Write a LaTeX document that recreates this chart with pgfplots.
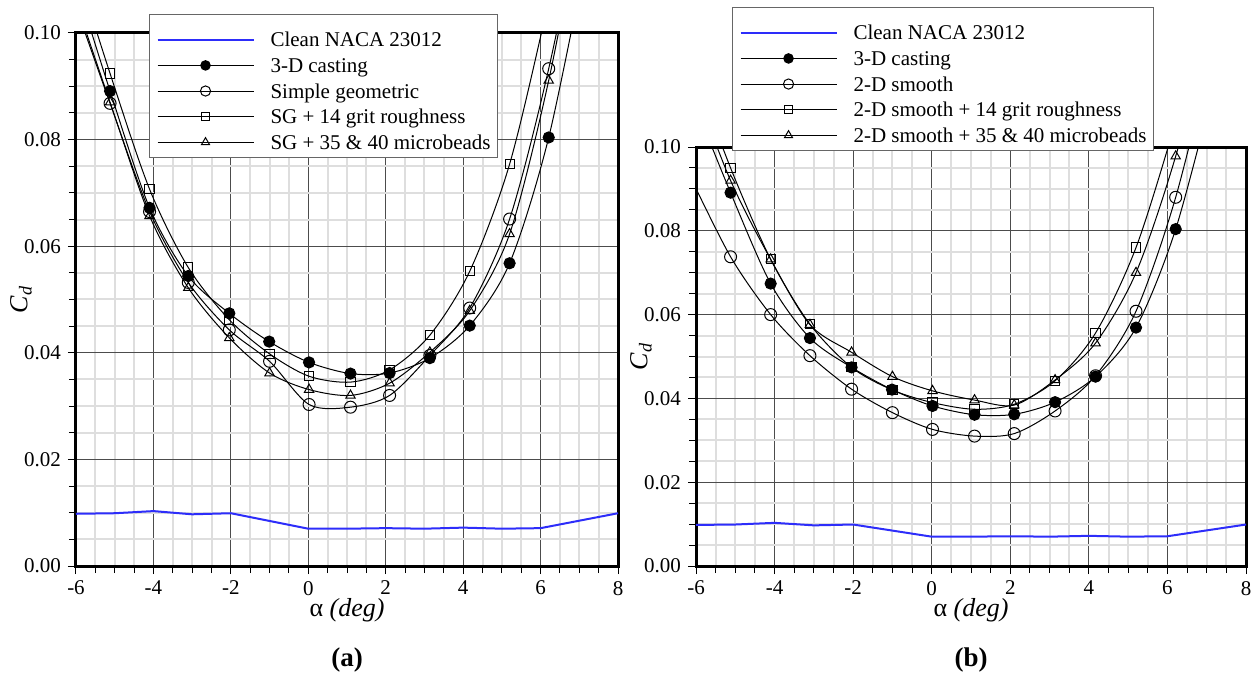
\documentclass[border=0pt]{standalone}
\usepackage{fontspec}
\setmainfont{Liberation Serif}
\usepackage{pgfplots}
\pgfplotsset{compat=1.18}
\definecolor{cleanblue}{RGB}{45,45,250}

\pgfplotsset{
  cdaxis/.style={
    scale only axis,
    anchor=south west,
    xmin=-6, xmax=8, ymin=0, ymax=0.1,
    xtick={-6,-4,-2,0,2,4,6,8},
    ytick={0,0.02,0.04,0.06,0.08,0.1},
    minor x tick num=3,
    minor y tick num=3,
    grid=both,
    major grid style={black!70, line width=0.4pt},
    minor grid style={black!13, line width=1pt},
    axis line style={line width=1.5pt},
    tick align=outside,
    tick pos=left,
    tick style={black, line width=0.5pt},
    major tick length=4pt, minor tick length=3.5pt,
    /pgf/number format/assume math mode=true,
    xticklabel style={/pgf/number format/.cd, fixed},
    yticklabel style={/pgf/number format/.cd, fixed, fixed zerofill, precision=2},
    ticklabel style={font=\fontsize{10.5}{12}\selectfont},
    xlabel={α \textit{(deg)}},
    ylabel={\textit{C}\textsubscript{\textit{d}}},
    label style={font=\fontsize{13}{15}\selectfont},
    legend cell align=left,
    legend image code/.code={\draw[mark repeat=2,mark phase=2,##1] plot coordinates {(0pt,-2.5pt) (24pt,-2.5pt) (48pt,-2.5pt)};},
    legend image post style={/tikz/every mark/.append style={scale=0.85}},
    legend style={anchor=north west, draw=black!60, line width=0.5pt, fill=white,
      font=\fontsize{10.5}{12}\selectfont, inner xsep=3.5pt, inner ysep=3.75pt,
      column sep=8pt, row sep=0pt,
      nodes={inner sep=0pt, text height=12.4pt, text depth=0.4pt}},
  },
  cleanline/.style={color=cleanblue, line width=1pt, no marks},
  fillc/.style={black, line width=0.5pt, smooth, mark=*, mark size=2.8pt, mark options={solid, fill=black}},
  openc/.style={black, line width=0.5pt, smooth, mark=o, mark size=3pt, mark options={solid}},
  sqr/.style={black, line width=0.5pt, smooth, mark=square, mark size=2.3pt, mark options={solid}},
  tri/.style={black, line width=0.5pt, smooth, mark=triangle, mark size=2.7pt, mark options={solid}},
}

\begin{document}
\begin{tikzpicture}
\useasboundingbox (0,0) rectangle (628.5pt,337.5pt);

% ---------------- panel (a)
\begin{axis}[cdaxis,
  at={(38pt,54.5pt)}, width=271pt, height=266.5pt,
  xlabel style={at={(axis description cs:0.5,-0.0826)}, anchor=center},
  ylabel style={at={(axis description cs:-0.1015,0.5)}, anchor=center},
  legend style={at={(0.1347,1.0356)}},
]
\addplot[cleanline] coordinates {(-6,0.0098)(-5,0.0099)(-4,0.0103)(-3,0.0097)(-2,0.0099)(0,0.0070)(1,0.0070)(2,0.0071)(3,0.0070)(4,0.0072)(5,0.0070)(6,0.0071)(8,0.0099)};
\addlegendentry{Clean NACA 23012}
\addplot[fillc] coordinates {(-6.15,0.113)(-5.12,0.0891)(-4.1,0.0672)(-3.1,0.0544)(-2.04,0.0474)(-1.01,0.0421)(0.02,0.0382)(1.09,0.0361)(2.1,0.0362)(3.14,0.0390)(4.17,0.0451)(5.2,0.0568)(6.21,0.0804)(7.25,0.117)};
\addlegendentry{3-D casting}
\addplot[openc] coordinates {(-6.15,0.108)(-5.12,0.0868)(-4.1,0.0665)(-3.1,0.0532)(-2.04,0.0443)(-1.0,0.0384)(0.02,0.0303)(1.09,0.0298)(2.1,0.0320)(3.14,0.0395)(4.17,0.0484)(5.2,0.0651)(6.21,0.0933)(7.25,0.130)};
\addlegendentry{Simple geometric}
\addplot[sqr] coordinates {(-6.15,0.116)(-5.12,0.0924)(-4.1,0.0707)(-3.1,0.0560)(-2.04,0.0462)(-1.0,0.0398)(0.02,0.0356)(1.09,0.0345)(2.1,0.0368)(3.14,0.0433)(4.17,0.0553)(5.2,0.0754)(6.21,0.106)(7.25,0.14)};
\addlegendentry{SG + 14 grit roughness}
\addplot[tri] coordinates {(-6.15,0.109)(-5.12,0.0870)(-4.1,0.0657)(-3.1,0.0522)(-2.04,0.0428)(-1.0,0.0362)(0.02,0.0331)(1.09,0.0320)(2.1,0.0343)(3.14,0.0401)(4.17,0.0479)(5.2,0.0623)(6.21,0.0911)(7.25,0.130)};
\addlegendentry{SG + 35 \& 40 microbeads}
\end{axis}

% ---------------- panel (b)
\begin{axis}[cdaxis,
  at={(348pt,54.5pt)}, width=275pt, height=209.5pt,
  xlabel style={at={(axis description cs:0.5,-0.105)}, anchor=center},
  ylabel style={at={(axis description cs:-0.1,0.5)}, anchor=center},
  legend style={at={(0.0655,1.334)}},
]
\addplot[cleanline] coordinates {(-6,0.0098)(-5,0.0099)(-4,0.0103)(-3,0.0097)(-2,0.0099)(0,0.0070)(1,0.0070)(2,0.0071)(3,0.0070)(4,0.0072)(5,0.0070)(6,0.0071)(8,0.0099)};
\addlegendentry{Clean NACA 23012}
\addplot[fillc] coordinates {(-6.15,0.113)(-5.12,0.0891)(-4.1,0.0674)(-3.1,0.0544)(-2.04,0.0474)(-1.01,0.0421)(0.02,0.0382)(1.09,0.0361)(2.1,0.0362)(3.14,0.0391)(4.17,0.0452)(5.2,0.0569)(6.21,0.0804)(7.25,0.117)};
\addlegendentry{3-D casting}
\addplot[openc] coordinates {(-6.15,0.093)(-5.12,0.0738)(-4.1,0.0600)(-3.1,0.0502)(-2.04,0.0422)(-1.0,0.0366)(0.02,0.0326)(1.09,0.0310)(2.1,0.0316)(3.14,0.0370)(4.17,0.0454)(5.2,0.0608)(6.21,0.0880)(7.25,0.127)};
\addlegendentry{2-D smooth}
\addplot[sqr] coordinates {(-6.15,0.121)(-5.12,0.0950)(-4.1,0.0732)(-3.1,0.0577)(-2.04,0.0474)(-1.0,0.0420)(0.02,0.0390)(1.09,0.0374)(2.1,0.0386)(3.14,0.0442)(4.17,0.0556)(5.2,0.0760)(6.21,0.106)(7.25,0.14)};
\addlegendentry{2-D smooth + 14 grit roughness}
\addplot[tri] coordinates {(-6.15,0.117)(-5.12,0.0920)(-4.1,0.0732)(-3.1,0.0576)(-2.04,0.0510)(-1.0,0.0452)(0.02,0.0418)(1.09,0.0396)(2.1,0.0384)(3.14,0.0444)(4.17,0.0532)(5.2,0.0700)(6.21,0.0978)(7.25,0.135)};
\addlegendentry{2-D smooth + 35 \& 40 microbeads}
\end{axis}

\node[font=\bfseries\fontsize{13.5}{15}\selectfont] at (173.5pt,7.5pt) {(a)};
\node[font=\bfseries\fontsize{13.5}{15}\selectfont] at (485.5pt,7.5pt) {(b)};
\end{tikzpicture}
\end{document}
